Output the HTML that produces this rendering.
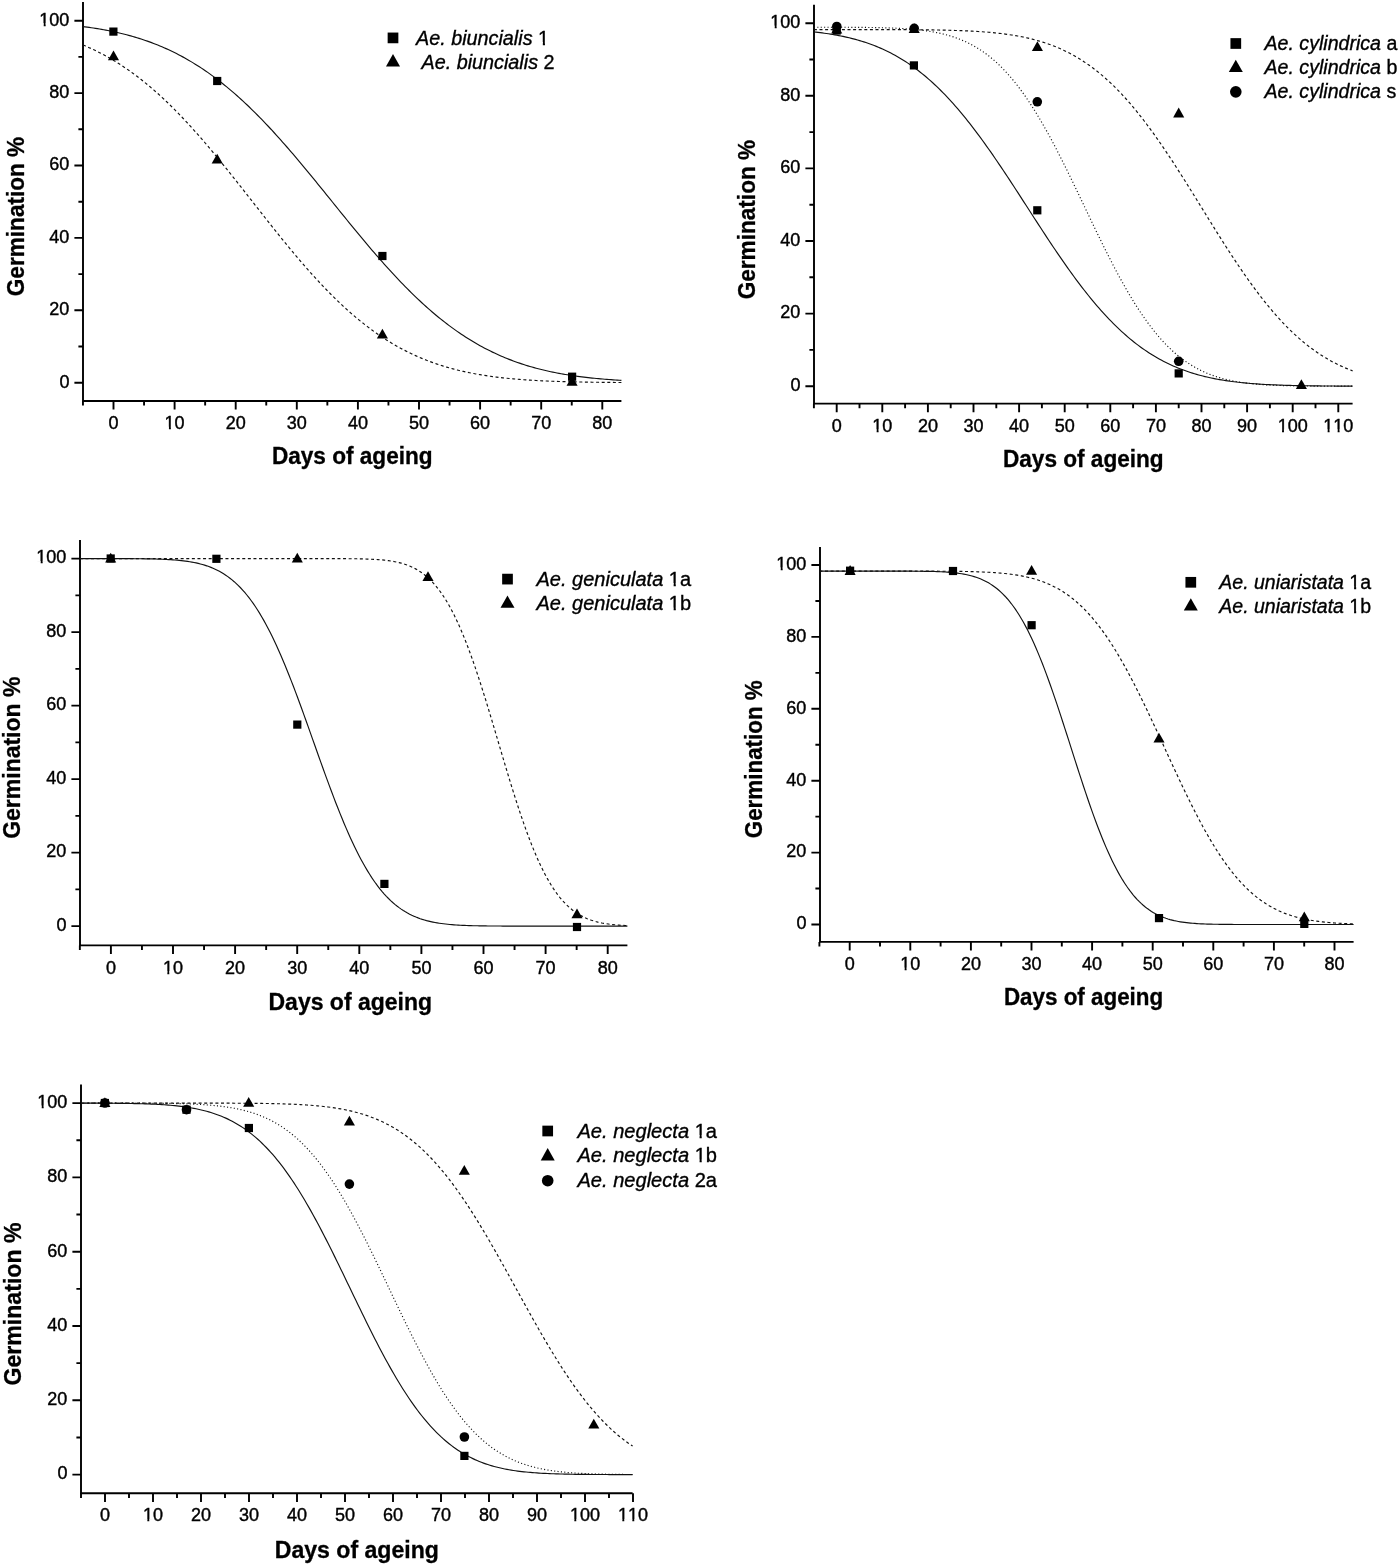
<!DOCTYPE html>
<html><head><meta charset="utf-8"><style>
html,body{margin:0;padding:0;background:#fff;overflow:hidden;}
svg{display:block;will-change:transform;}
text{font-family:"Liberation Sans", sans-serif;fill:#000;font-kerning:none;}
</style></head><body>
<svg width="1400" height="1565" viewBox="0 0 1400 1565">
<rect width="1400" height="1565" fill="#fff"/>
<path d="M83 2V401.9M82.1 401H621.4" stroke="#000" stroke-width="1.9" fill="none"/>
<path d="M83 382.7h-8.6M83 310.3h-8.6M83 237.9h-8.6M83 165.5h-8.6M83 93.1h-8.6M83 20.7h-8.6M83 346.5h-4.6M83 274.1h-4.6M83 201.7h-4.6M83 129.3h-4.6M83 56.9h-4.6M113.5 401v8.6M174.6 401v8.6M235.7 401v8.6M296.8 401v8.6M357.9 401v8.6M419 401v8.6M480.1 401v8.6M541.2 401v8.6M602.3 401v8.6M82.95 401v4.6M144.05 401v4.6M205.15 401v4.6M266.25 401v4.6M327.35 401v4.6M388.45 401v4.6M449.55 401v4.6M510.65 401v4.6M571.75 401v4.6" stroke="#000" stroke-width="1.9" fill="none"/>
<g font-size="18" stroke="#000" stroke-width="0.4"><text x="69.4" y="387.5" text-anchor="end">0</text><text x="69.4" y="315.1" text-anchor="end">20</text><text x="69.4" y="242.7" text-anchor="end">40</text><text x="69.4" y="170.3" text-anchor="end">60</text><text x="69.4" y="97.9" text-anchor="end">80</text><text x="69.4" y="25.5" text-anchor="end">100</text><text x="113.5" y="429.1" text-anchor="middle">0</text><text x="174.6" y="429.1" text-anchor="middle">10</text><text x="235.7" y="429.1" text-anchor="middle">20</text><text x="296.8" y="429.1" text-anchor="middle">30</text><text x="357.9" y="429.1" text-anchor="middle">40</text><text x="419" y="429.1" text-anchor="middle">50</text><text x="480.1" y="429.1" text-anchor="middle">60</text><text x="541.2" y="429.1" text-anchor="middle">70</text><text x="602.3" y="429.1" text-anchor="middle">80</text></g>
<text transform="translate(24.2 216.5) rotate(-90) scale(1 1.04)" text-anchor="middle" font-weight="bold" font-size="22.6" stroke="#000" stroke-width="0.3">Germination %</text>
<text transform="translate(352.25 464.4) scale(1 1.04)" text-anchor="middle" font-weight="bold" font-size="22.6" stroke="#000" stroke-width="0.3">Days of ageing</text>
<path d="M82.95 26.59L85.03 26.85L87.11 27.13L89.19 27.42L91.27 27.72L93.34 28.03L95.42 28.35L97.5 28.68L99.58 29.03L101.66 29.39L103.74 29.76L105.82 30.14L107.9 30.54L109.98 30.95L112.06 31.38L114.13 31.82L116.21 32.27L118.29 32.74L120.37 33.23L122.45 33.73L124.53 34.25L126.61 34.79L128.69 35.34L130.77 35.91L132.84 36.5L134.92 37.1L137 37.73L139.08 38.37L141.16 39.04L143.24 39.72L145.32 40.42L147.4 41.14L149.48 41.89L151.56 42.65L153.63 43.44L155.71 44.25L157.79 45.08L159.87 45.93L161.95 46.8L164.03 47.7L166.11 48.63L168.19 49.57L170.27 50.54L172.35 51.53L174.42 52.55L176.5 53.6L178.58 54.66L180.66 55.76L182.74 56.88L184.82 58.02L186.9 59.2L188.98 60.39L191.06 61.62L193.13 62.87L195.21 64.15L197.29 65.45L199.37 66.78L201.45 68.14L203.53 69.53L205.61 70.95L207.69 72.39L209.77 73.86L211.85 75.36L213.92 76.88L216 78.44L218.08 80.02L220.16 81.63L222.24 83.26L224.32 84.93L226.4 86.62L228.48 88.34L230.56 90.09L232.63 91.87L234.71 93.67L236.79 95.5L238.87 97.35L240.95 99.24L243.03 101.15L245.11 103.08L247.19 105.04L249.27 107.03L251.35 109.04L253.42 111.08L255.5 113.14L257.58 115.23L259.66 117.34L261.74 119.47L263.82 121.63L265.9 123.81L267.98 126.01L270.06 128.24L272.14 130.48L274.21 132.75L276.29 135.04L278.37 137.34L280.45 139.67L282.53 142.01L284.61 144.37L286.69 146.75L288.77 149.14L290.85 151.56L292.92 153.98L295 156.42L297.08 158.88L299.16 161.35L301.24 163.83L303.32 166.32L305.4 168.82L307.48 171.33L309.56 173.86L311.64 176.39L313.71 178.93L315.79 181.48L317.87 184.03L319.95 186.59L322.03 189.15L324.11 191.72L326.19 194.29L328.27 196.86L330.35 199.44L332.42 202.01L334.5 204.59L336.58 207.16L338.66 209.74L340.74 212.31L342.82 214.87L344.9 217.44L346.98 219.99L349.06 222.55L351.14 225.09L353.21 227.63L355.29 230.16L357.37 232.68L359.45 235.19L361.53 237.69L363.61 240.18L365.69 242.66L367.77 245.12L369.85 247.57L371.93 250.01L374 252.43L376.08 254.84L378.16 257.23L380.24 259.61L382.32 261.96L384.4 264.3L386.48 266.62L388.56 268.92L390.64 271.21L392.71 273.47L394.79 275.71L396.87 277.93L398.95 280.12L401.03 282.3L403.11 284.45L405.19 286.58L407.27 288.68L409.35 290.76L411.43 292.82L413.5 294.85L415.58 296.86L417.66 298.84L419.74 300.79L421.82 302.72L423.9 304.63L425.98 306.5L428.06 308.35L430.14 310.18L432.21 311.97L434.29 313.74L436.37 315.48L438.45 317.19L440.53 318.88L442.61 320.54L444.69 322.17L446.77 323.77L448.85 325.35L450.93 326.89L453 328.41L455.08 329.9L457.16 331.37L459.24 332.8L461.32 334.21L463.4 335.59L465.48 336.94L467.56 338.27L469.64 339.57L471.72 340.84L473.79 342.08L475.87 343.3L477.95 344.49L480.03 345.66L482.11 346.8L484.19 347.91L486.27 349L488.35 350.06L490.43 351.1L492.5 352.11L494.58 353.1L496.66 354.06L498.74 355L500.82 355.92L502.9 356.81L504.98 357.68L507.06 358.53L509.14 359.35L511.22 360.16L513.29 360.94L515.37 361.7L517.45 362.43L519.53 363.15L521.61 363.85L523.69 364.53L525.77 365.19L527.85 365.83L529.93 366.45L532 367.05L534.08 367.63L536.16 368.2L538.24 368.75L540.32 369.28L542.4 369.79L544.48 370.29L546.56 370.77L548.64 371.24L550.72 371.69L552.79 372.13L554.87 372.55L556.95 372.96L559.03 373.35L561.11 373.73L563.19 374.1L565.27 374.46L567.35 374.8L569.43 375.13L571.51 375.45L573.58 375.76L575.66 376.05L577.74 376.34L579.82 376.61L581.9 376.88L583.98 377.13L586.06 377.38L588.14 377.61L590.22 377.84L592.29 378.06L594.37 378.27L596.45 378.47L598.53 378.66L600.61 378.85L602.69 379.02L604.77 379.2L606.85 379.36L608.93 379.52L611.01 379.67L613.08 379.81L615.16 379.95L617.24 380.08L619.32 380.21L621.4 380.33" stroke="#111" stroke-width="1.15" fill="none"/>
<path d="M82.95 44.95L85.03 45.82L87.11 46.72L89.19 47.65L91.27 48.59L93.34 49.57L95.42 50.57L97.5 51.59L99.58 52.64L101.66 53.72L103.74 54.83L105.82 55.96L107.9 57.12L109.98 58.3L112.06 59.52L114.13 60.76L116.21 62.03L118.29 63.33L120.37 64.65L122.45 66.01L124.53 67.4L126.61 68.81L128.69 70.25L130.77 71.73L132.84 73.23L134.92 74.76L137 76.32L139.08 77.91L141.16 79.53L143.24 81.18L145.32 82.86L147.4 84.57L149.48 86.31L151.56 88.07L153.63 89.87L155.71 91.7L157.79 93.55L159.87 95.44L161.95 97.35L164.03 99.29L166.11 101.26L168.19 103.25L170.27 105.28L172.35 107.33L174.42 109.41L176.5 111.51L178.58 113.64L180.66 115.8L182.74 117.98L184.82 120.19L186.9 122.42L188.98 124.67L191.06 126.95L193.13 129.25L195.21 131.57L197.29 133.92L199.37 136.28L201.45 138.67L203.53 141.08L205.61 143.5L207.69 145.95L209.77 148.41L211.85 150.89L213.92 153.39L216 155.9L218.08 158.42L220.16 160.96L222.24 163.52L224.32 166.08L226.4 168.66L228.48 171.25L230.56 173.85L232.63 176.46L234.71 179.08L236.79 181.7L238.87 184.33L240.95 186.97L243.03 189.61L245.11 192.26L247.19 194.91L249.27 197.56L251.35 200.21L253.42 202.87L255.5 205.52L257.58 208.17L259.66 210.82L261.74 213.47L263.82 216.11L265.9 218.75L267.98 221.38L270.06 224.01L272.14 226.62L274.21 229.23L276.29 231.83L278.37 234.42L280.45 237L282.53 239.57L284.61 242.13L286.69 244.67L288.77 247.2L290.85 249.71L292.92 252.21L295 254.69L297.08 257.15L299.16 259.6L301.24 262.03L303.32 264.44L305.4 266.83L307.48 269.2L309.56 271.54L311.64 273.87L313.71 276.17L315.79 278.45L317.87 280.71L319.95 282.95L322.03 285.16L324.11 287.34L326.19 289.5L328.27 291.63L330.35 293.74L332.42 295.82L334.5 297.88L336.58 299.9L338.66 301.9L340.74 303.88L342.82 305.82L344.9 307.73L346.98 309.62L349.06 311.48L351.14 313.31L353.21 315.11L355.29 316.88L357.37 318.62L359.45 320.33L361.53 322.02L363.61 323.67L365.69 325.29L367.77 326.89L369.85 328.45L371.93 329.99L374 331.49L376.08 332.97L378.16 334.42L380.24 335.84L382.32 337.22L384.4 338.58L386.48 339.91L388.56 341.22L390.64 342.49L392.71 343.74L394.79 344.95L396.87 346.14L398.95 347.3L401.03 348.44L403.11 349.55L405.19 350.63L407.27 351.68L409.35 352.71L411.43 353.71L413.5 354.69L415.58 355.64L417.66 356.57L419.74 357.47L421.82 358.35L423.9 359.2L425.98 360.03L428.06 360.84L430.14 361.63L432.21 362.39L434.29 363.13L436.37 363.85L438.45 364.55L440.53 365.22L442.61 365.88L444.69 366.52L446.77 367.14L448.85 367.73L450.93 368.31L453 368.87L455.08 369.42L457.16 369.94L459.24 370.45L461.32 370.94L463.4 371.42L465.48 371.88L467.56 372.32L469.64 372.75L471.72 373.16L473.79 373.56L475.87 373.95L477.95 374.32L480.03 374.68L482.11 375.02L484.19 375.35L486.27 375.67L488.35 375.98L490.43 376.28L492.5 376.56L494.58 376.84L496.66 377.1L498.74 377.35L500.82 377.6L502.9 377.83L504.98 378.06L507.06 378.27L509.14 378.48L511.22 378.68L513.29 378.87L515.37 379.05L517.45 379.23L519.53 379.39L521.61 379.55L523.69 379.71L525.77 379.85L527.85 379.99L529.93 380.13L532 380.26L534.08 380.38L536.16 380.5L538.24 380.61L540.32 380.72L542.4 380.82L544.48 380.91L546.56 381.01L548.64 381.1L550.72 381.18L552.79 381.26L554.87 381.34L556.95 381.41L559.03 381.48L561.11 381.55L563.19 381.61L565.27 381.67L567.35 381.72L569.43 381.78L571.51 381.83L573.58 381.88L575.66 381.92L577.74 381.97L579.82 382.01L581.9 382.05L583.98 382.09L586.06 382.12L588.14 382.15L590.22 382.19L592.29 382.22L594.37 382.24L596.45 382.27L598.53 382.3L600.61 382.32L602.69 382.34L604.77 382.37L606.85 382.39L608.93 382.4L611.01 382.42L613.08 382.44L615.16 382.46L617.24 382.47L619.32 382.49L621.4 382.5" stroke="#111" stroke-width="1.15" fill="none" stroke-dasharray="3 2.6"/>
<g fill="#000"><rect x="109.3" y="27.5" width="8.2" height="8.2"/><rect x="213.1" y="76.9" width="8.2" height="8.2"/><rect x="378.3" y="251.9" width="8.2" height="8.2"/><rect x="568" y="372.6" width="8.2" height="8.2"/><path d="M113.5 50.55L119.05 60.35L107.95 60.35Z"/><path d="M217.2 153.7L222.75 163.5L211.65 163.5Z"/><path d="M382.4 328.7L387.95 338.5L376.85 338.5Z"/><path d="M572.1 375.9L577.65 385.7L566.55 385.7Z"/></g>
<g fill="#000"><rect x="387.65" y="32.55" width="10.7" height="10.7"/><text x="416" y="44.5" font-size="19.8" stroke="#000" stroke-width="0.35"><tspan font-style="italic">Ae. biuncialis</tspan> 1</text><path d="M393 54.1L400 66.4L386 66.4Z"/><text x="421.5" y="68.5" font-size="19.8" stroke="#000" stroke-width="0.35"><tspan font-style="italic">Ae. biuncialis</tspan> 2</text></g>
<path d="M814 4.8V404.5M813.1 403.6H1352.6" stroke="#000" stroke-width="1.9" fill="none"/>
<path d="M814 386.2h-8.6M814 313.6h-8.6M814 241h-8.6M814 168.4h-8.6M814 95.8h-8.6M814 23.2h-8.6M814 349.9h-4.6M814 277.3h-4.6M814 204.7h-4.6M814 132.1h-4.6M814 59.5h-4.6M836.7 403.6v8.6M882.3 403.6v8.6M927.9 403.6v8.6M973.5 403.6v8.6M1019.1 403.6v8.6M1064.7 403.6v8.6M1110.3 403.6v8.6M1155.9 403.6v8.6M1201.5 403.6v8.6M1247.1 403.6v8.6M1292.7 403.6v8.6M1338.3 403.6v8.6M813.9 403.6v4.6M859.5 403.6v4.6M905.1 403.6v4.6M950.7 403.6v4.6M996.3 403.6v4.6M1041.9 403.6v4.6M1087.5 403.6v4.6M1133.1 403.6v4.6M1178.7 403.6v4.6M1224.3 403.6v4.6M1269.9 403.6v4.6M1315.5 403.6v4.6" stroke="#000" stroke-width="1.9" fill="none"/>
<g font-size="18" stroke="#000" stroke-width="0.4"><text x="800.4" y="391" text-anchor="end">0</text><text x="800.4" y="318.4" text-anchor="end">20</text><text x="800.4" y="245.8" text-anchor="end">40</text><text x="800.4" y="173.2" text-anchor="end">60</text><text x="800.4" y="100.6" text-anchor="end">80</text><text x="800.4" y="28" text-anchor="end">100</text><text x="836.7" y="431.7" text-anchor="middle">0</text><text x="882.3" y="431.7" text-anchor="middle">10</text><text x="927.9" y="431.7" text-anchor="middle">20</text><text x="973.5" y="431.7" text-anchor="middle">30</text><text x="1019.1" y="431.7" text-anchor="middle">40</text><text x="1064.7" y="431.7" text-anchor="middle">50</text><text x="1110.3" y="431.7" text-anchor="middle">60</text><text x="1155.9" y="431.7" text-anchor="middle">70</text><text x="1201.5" y="431.7" text-anchor="middle">80</text><text x="1247.1" y="431.7" text-anchor="middle">90</text><text x="1292.7" y="431.7" text-anchor="middle">100</text><text x="1338.3" y="431.7" text-anchor="middle">110</text></g>
<text transform="translate(754.7 219.6) rotate(-90) scale(1 1.04)" text-anchor="middle" font-weight="bold" font-size="22.6" stroke="#000" stroke-width="0.3">Germination %</text>
<text transform="translate(1083.3 466.9) scale(1 1.04)" text-anchor="middle" font-weight="bold" font-size="22.6" stroke="#000" stroke-width="0.3">Days of ageing</text>
<path d="M813.9 31.95L815.98 32.17L818.06 32.41L820.14 32.66L822.22 32.93L824.3 33.2L826.38 33.49L828.46 33.8L830.54 34.12L832.62 34.46L834.7 34.81L836.78 35.19L838.86 35.57L840.94 35.98L843.02 36.41L845.1 36.85L847.18 37.32L849.26 37.81L851.34 38.32L853.42 38.85L855.5 39.4L857.58 39.98L859.66 40.58L861.74 41.21L863.82 41.87L865.9 42.55L867.98 43.26L870.06 43.99L872.14 44.76L874.22 45.55L876.3 46.38L878.38 47.24L880.46 48.12L882.54 49.05L884.62 50L886.7 50.99L888.78 52.01L890.86 53.07L892.94 54.17L895.02 55.3L897.1 56.47L899.18 57.67L901.26 58.92L903.34 60.2L905.42 61.53L907.5 62.89L909.58 64.29L911.66 65.74L913.74 67.23L915.82 68.75L917.9 70.33L919.98 71.94L922.06 73.6L924.14 75.3L926.22 77.04L928.3 78.83L930.38 80.66L932.46 82.54L934.54 84.46L936.62 86.42L938.7 88.43L940.78 90.48L942.86 92.58L944.94 94.72L947.02 96.9L949.09 99.13L951.17 101.4L953.25 103.71L955.33 106.06L957.41 108.46L959.49 110.9L961.57 113.38L963.65 115.9L965.73 118.46L967.81 121.06L969.89 123.69L971.97 126.37L974.05 129.08L976.13 131.82L978.21 134.6L980.29 137.42L982.37 140.26L984.45 143.14L986.53 146.05L988.61 148.99L990.69 151.95L992.77 154.95L994.85 157.96L996.93 161.01L999.01 164.07L1001.09 167.16L1003.17 170.26L1005.25 173.39L1007.33 176.53L1009.41 179.68L1011.49 182.86L1013.57 186.04L1015.65 189.23L1017.73 192.43L1019.81 195.64L1021.89 198.86L1023.97 202.08L1026.05 205.3L1028.13 208.53L1030.21 211.75L1032.29 214.97L1034.37 218.19L1036.45 221.4L1038.53 224.61L1040.61 227.8L1042.69 230.99L1044.77 234.16L1046.85 237.32L1048.93 240.46L1051.01 243.59L1053.09 246.7L1055.17 249.79L1057.25 252.86L1059.33 255.91L1061.41 258.93L1063.49 261.93L1065.57 264.9L1067.65 267.84L1069.73 270.76L1071.81 273.64L1073.89 276.49L1075.97 279.31L1078.05 282.1L1080.13 284.85L1082.21 287.57L1084.29 290.25L1086.37 292.9L1088.45 295.5L1090.53 298.07L1092.61 300.6L1094.69 303.08L1096.77 305.53L1098.85 307.93L1100.93 310.3L1103.01 312.62L1105.09 314.9L1107.17 317.13L1109.25 319.33L1111.33 321.47L1113.41 323.58L1115.49 325.64L1117.57 327.66L1119.65 329.63L1121.73 331.56L1123.81 333.44L1125.89 335.28L1127.97 337.08L1130.05 338.83L1132.13 340.54L1134.21 342.21L1136.29 343.83L1138.37 345.41L1140.45 346.95L1142.53 348.44L1144.61 349.9L1146.69 351.31L1148.77 352.68L1150.85 354.01L1152.93 355.3L1155.01 356.56L1157.09 357.77L1159.17 358.95L1161.25 360.08L1163.33 361.19L1165.41 362.25L1167.49 363.28L1169.57 364.28L1171.65 365.24L1173.73 366.17L1175.81 367.06L1177.89 367.93L1179.97 368.76L1182.05 369.56L1184.13 370.33L1186.21 371.07L1188.29 371.79L1190.37 372.47L1192.45 373.13L1194.53 373.77L1196.61 374.38L1198.69 374.96L1200.77 375.52L1202.85 376.05L1204.93 376.57L1207.01 377.06L1209.09 377.53L1211.17 377.98L1213.25 378.41L1215.33 378.82L1217.41 379.21L1219.48 379.59L1221.56 379.94L1223.64 380.28L1225.72 380.61L1227.8 380.92L1229.88 381.21L1231.96 381.49L1234.04 381.76L1236.12 382.01L1238.2 382.25L1240.28 382.48L1242.36 382.7L1244.44 382.9L1246.52 383.1L1248.6 383.28L1250.68 383.46L1252.76 383.63L1254.84 383.78L1256.92 383.93L1259 384.07L1261.08 384.2L1263.16 384.33L1265.24 384.45L1267.32 384.56L1269.4 384.66L1271.48 384.76L1273.56 384.86L1275.64 384.94L1277.72 385.03L1279.8 385.1L1281.88 385.18L1283.96 385.25L1286.04 385.31L1288.12 385.37L1290.2 385.43L1292.28 385.48L1294.36 385.53L1296.44 385.58L1298.52 385.62L1300.6 385.66L1302.68 385.7L1304.76 385.74L1306.84 385.77L1308.92 385.8L1311 385.83L1313.08 385.86L1315.16 385.88L1317.24 385.91L1319.32 385.93L1321.4 385.95L1323.48 385.97L1325.56 385.98L1327.64 386L1329.72 386.02L1331.8 386.03L1333.88 386.04L1335.96 386.06L1338.04 386.07L1340.12 386.08L1342.2 386.09L1344.28 386.1L1346.36 386.1L1348.44 386.11L1350.52 386.12L1352.6 386.13" stroke="#111" stroke-width="1.15" fill="none"/>
<path d="M813.9 27.21L815.98 27.21L818.06 27.21L820.14 27.21L822.22 27.21L824.3 27.22L826.38 27.22L828.46 27.22L830.54 27.23L832.62 27.23L834.7 27.24L836.78 27.24L838.86 27.25L840.94 27.26L843.02 27.26L845.1 27.27L847.18 27.28L849.26 27.29L851.34 27.31L853.42 27.32L855.5 27.33L857.58 27.35L859.66 27.37L861.74 27.39L863.82 27.41L865.9 27.43L867.98 27.46L870.06 27.49L872.14 27.52L874.22 27.56L876.3 27.6L878.38 27.64L880.46 27.69L882.54 27.74L884.62 27.8L886.7 27.86L888.78 27.93L890.86 28L892.94 28.08L895.02 28.17L897.1 28.26L899.18 28.37L901.26 28.48L903.34 28.6L905.42 28.74L907.5 28.88L909.58 29.04L911.66 29.21L913.74 29.39L915.82 29.59L917.9 29.8L919.98 30.03L922.06 30.27L924.14 30.54L926.22 30.82L928.3 31.13L930.38 31.45L932.46 31.81L934.54 32.18L936.62 32.58L938.7 33.01L940.78 33.47L942.86 33.96L944.94 34.48L947.02 35.03L949.09 35.62L951.17 36.25L953.25 36.91L955.33 37.62L957.41 38.36L959.49 39.15L961.57 39.99L963.65 40.87L965.73 41.81L967.81 42.79L969.89 43.82L971.97 44.91L974.05 46.06L976.13 47.27L978.21 48.53L980.29 49.86L982.37 51.25L984.45 52.7L986.53 54.22L988.61 55.81L990.69 57.47L992.77 59.2L994.85 61.01L996.93 62.88L999.01 64.83L1001.09 66.86L1003.17 68.97L1005.25 71.15L1007.33 73.41L1009.41 75.75L1011.49 78.18L1013.57 80.68L1015.65 83.26L1017.73 85.92L1019.81 88.67L1021.89 91.49L1023.97 94.4L1026.05 97.39L1028.13 100.45L1030.21 103.59L1032.29 106.81L1034.37 110.11L1036.45 113.48L1038.53 116.92L1040.61 120.44L1042.69 124.03L1044.77 127.68L1046.85 131.4L1048.93 135.18L1051.01 139.02L1053.09 142.93L1055.17 146.88L1057.25 150.89L1059.33 154.95L1061.41 159.05L1063.49 163.2L1065.57 167.39L1067.65 171.61L1069.73 175.86L1071.81 180.14L1073.89 184.45L1075.97 188.78L1078.05 193.12L1080.13 197.48L1082.21 201.84L1084.29 206.21L1086.37 210.58L1088.45 214.94L1090.53 219.3L1092.61 223.65L1094.69 227.98L1096.77 232.29L1098.85 236.58L1100.93 240.84L1103.01 245.07L1105.09 249.26L1107.17 253.42L1109.25 257.53L1111.33 261.6L1113.41 265.62L1115.49 269.59L1117.57 273.5L1119.65 277.36L1121.73 281.16L1123.81 284.89L1125.89 288.56L1127.97 292.16L1130.05 295.69L1132.13 299.15L1134.21 302.54L1136.29 305.85L1138.37 309.09L1140.45 312.25L1142.53 315.33L1144.61 318.33L1146.69 321.26L1148.77 324.1L1150.85 326.86L1152.93 329.54L1155.01 332.15L1157.09 334.67L1159.17 337.11L1161.25 339.46L1163.33 341.74L1165.41 343.95L1167.49 346.07L1169.57 348.11L1171.65 350.08L1173.73 351.98L1175.81 353.79L1177.89 355.54L1179.97 357.22L1182.05 358.82L1184.13 360.36L1186.21 361.83L1188.29 363.23L1190.37 364.57L1192.45 365.85L1194.53 367.07L1196.61 368.23L1198.69 369.33L1200.77 370.38L1202.85 371.37L1204.93 372.32L1207.01 373.21L1209.09 374.06L1211.17 374.86L1213.25 375.61L1215.33 376.33L1217.41 377L1219.48 377.63L1221.56 378.23L1223.64 378.79L1225.72 379.32L1227.8 379.82L1229.88 380.28L1231.96 380.72L1234.04 381.12L1236.12 381.51L1238.2 381.86L1240.28 382.19L1242.36 382.5L1244.44 382.79L1246.52 383.06L1248.6 383.31L1250.68 383.55L1252.76 383.76L1254.84 383.96L1256.92 384.15L1259 384.32L1261.08 384.48L1263.16 384.62L1265.24 384.76L1267.32 384.89L1269.4 385L1271.48 385.11L1273.56 385.2L1275.64 385.29L1277.72 385.38L1279.8 385.45L1281.88 385.52L1283.96 385.58L1286.04 385.64L1288.12 385.69L1290.2 385.74L1292.28 385.79L1294.36 385.83L1296.44 385.86L1298.52 385.9L1300.6 385.93L1302.68 385.95L1304.76 385.98L1306.84 386L1308.92 386.02L1311 386.04L1313.08 386.06L1315.16 386.07L1317.24 386.09L1319.32 386.1L1321.4 386.11L1323.48 386.12L1325.56 386.13L1327.64 386.14L1329.72 386.14L1331.8 386.15L1333.88 386.15L1335.96 386.16L1338.04 386.16L1340.12 386.17L1342.2 386.17L1344.28 386.18L1346.36 386.18L1348.44 386.18L1350.52 386.18L1352.6 386.18" stroke="#111" stroke-width="1.15" fill="none" stroke-dasharray="1.1 2.3"/>
<path d="M813.9 29.55L815.98 29.55L818.06 29.55L820.14 29.56L822.22 29.56L824.3 29.56L826.38 29.56L828.46 29.56L830.54 29.56L832.62 29.56L834.7 29.56L836.78 29.56L838.86 29.56L840.94 29.56L843.02 29.56L845.1 29.56L847.18 29.56L849.26 29.56L851.34 29.56L853.42 29.57L855.5 29.57L857.58 29.57L859.66 29.57L861.74 29.57L863.82 29.57L865.9 29.58L867.98 29.58L870.06 29.58L872.14 29.58L874.22 29.59L876.3 29.59L878.38 29.59L880.46 29.6L882.54 29.6L884.62 29.61L886.7 29.61L888.78 29.62L890.86 29.62L892.94 29.63L895.02 29.64L897.1 29.65L899.18 29.66L901.26 29.66L903.34 29.67L905.42 29.69L907.5 29.7L909.58 29.71L911.66 29.72L913.74 29.74L915.82 29.76L917.9 29.77L919.98 29.79L922.06 29.81L924.14 29.84L926.22 29.86L928.3 29.88L930.38 29.91L932.46 29.94L934.54 29.97L936.62 30.01L938.7 30.05L940.78 30.08L942.86 30.13L944.94 30.17L947.02 30.22L949.09 30.27L951.17 30.33L953.25 30.39L955.33 30.45L957.41 30.52L959.49 30.59L961.57 30.67L963.65 30.76L965.73 30.84L967.81 30.94L969.89 31.04L971.97 31.15L974.05 31.26L976.13 31.38L978.21 31.51L980.29 31.65L982.37 31.79L984.45 31.95L986.53 32.11L988.61 32.28L990.69 32.47L992.77 32.66L994.85 32.86L996.93 33.08L999.01 33.31L1001.09 33.55L1003.17 33.81L1005.25 34.08L1007.33 34.36L1009.41 34.66L1011.49 34.98L1013.57 35.31L1015.65 35.66L1017.73 36.02L1019.81 36.41L1021.89 36.81L1023.97 37.24L1026.05 37.68L1028.13 38.15L1030.21 38.64L1032.29 39.15L1034.37 39.69L1036.45 40.25L1038.53 40.84L1040.61 41.45L1042.69 42.09L1044.77 42.76L1046.85 43.46L1048.93 44.19L1051.01 44.95L1053.09 45.74L1055.17 46.56L1057.25 47.41L1059.33 48.3L1061.41 49.22L1063.49 50.18L1065.57 51.18L1067.65 52.21L1069.73 53.28L1071.81 54.39L1073.89 55.54L1075.97 56.73L1078.05 57.96L1080.13 59.23L1082.21 60.54L1084.29 61.9L1086.37 63.3L1088.45 64.74L1090.53 66.23L1092.61 67.77L1094.69 69.35L1096.77 70.97L1098.85 72.65L1100.93 74.37L1103.01 76.13L1105.09 77.95L1107.17 79.81L1109.25 81.72L1111.33 83.68L1113.41 85.69L1115.49 87.74L1117.57 89.85L1119.65 92L1121.73 94.2L1123.81 96.45L1125.89 98.74L1127.97 101.09L1130.05 103.48L1132.13 105.92L1134.21 108.4L1136.29 110.93L1138.37 113.5L1140.45 116.12L1142.53 118.78L1144.61 121.48L1146.69 124.23L1148.77 127.02L1150.85 129.84L1152.93 132.71L1155.01 135.61L1157.09 138.56L1159.17 141.53L1161.25 144.54L1163.33 147.59L1165.41 150.66L1167.49 153.77L1169.57 156.9L1171.65 160.06L1173.73 163.25L1175.81 166.46L1177.89 169.7L1179.97 172.95L1182.05 176.23L1184.13 179.52L1186.21 182.83L1188.29 186.15L1190.37 189.48L1192.45 192.82L1194.53 196.18L1196.61 199.54L1198.69 202.9L1200.77 206.26L1202.85 209.63L1204.93 213L1207.01 216.36L1209.09 219.72L1211.17 223.07L1213.25 226.41L1215.33 229.75L1217.41 233.07L1219.48 236.37L1221.56 239.66L1223.64 242.94L1225.72 246.19L1227.8 249.43L1229.88 252.64L1231.96 255.82L1234.04 258.98L1236.12 262.12L1238.2 265.22L1240.28 268.3L1242.36 271.34L1244.44 274.35L1246.52 277.32L1248.6 280.26L1250.68 283.16L1252.76 286.03L1254.84 288.85L1256.92 291.64L1259 294.38L1261.08 297.09L1263.16 299.75L1265.24 302.36L1267.32 304.93L1269.4 307.46L1271.48 309.94L1273.56 312.38L1275.64 314.76L1277.72 317.11L1279.8 319.4L1281.88 321.65L1283.96 323.84L1286.04 325.99L1288.12 328.1L1290.2 330.15L1292.28 332.16L1294.36 334.11L1296.44 336.02L1298.52 337.88L1300.6 339.7L1302.68 341.46L1304.76 343.18L1306.84 344.85L1308.92 346.47L1311 348.05L1313.08 349.58L1315.16 351.07L1317.24 352.51L1319.32 353.91L1321.4 355.27L1323.48 356.58L1325.56 357.85L1327.64 359.08L1329.72 360.26L1331.8 361.41L1333.88 362.52L1335.96 363.59L1338.04 364.62L1340.12 365.61L1342.2 366.57L1344.28 367.49L1346.36 368.38L1348.44 369.23L1350.52 370.05L1352.6 370.84" stroke="#111" stroke-width="1.15" fill="none" stroke-dasharray="3 2.6"/>
<g fill="#000"><rect x="832.6" y="26.4" width="8.2" height="8.2"/><rect x="909.8" y="61.3" width="8.2" height="8.2"/><rect x="1033.2" y="206.2" width="8.2" height="8.2"/><rect x="1174.6" y="369.3" width="8.2" height="8.2"/><circle cx="836.8" cy="26.5" r="4.8"/><circle cx="914.2" cy="28.3" r="4.8"/><circle cx="1037.3" cy="101.8" r="4.8"/><circle cx="1178.7" cy="361.3" r="4.8"/><path d="M836.7 23.6L842.25 33.4L831.15 33.4Z"/><path d="M914.2 23.3L919.75 33.1L908.65 33.1Z"/><path d="M1037.4 41.2L1042.95 51L1031.85 51Z"/><path d="M1178.7 107.6L1184.25 117.4L1173.15 117.4Z"/><path d="M1301.4 379.2L1306.95 389L1295.85 389Z"/></g>
<g fill="#000"><rect x="1230.45" y="38.15" width="10.7" height="10.7"/><text x="1264.5" y="49.9" font-size="19.6" stroke="#000" stroke-width="0.35"><tspan font-style="italic">Ae. cylindrica</tspan> a</text><path d="M1235.8 59.75L1242.8 72.05L1228.8 72.05Z"/><text x="1264.5" y="74" font-size="19.6" stroke="#000" stroke-width="0.35"><tspan font-style="italic">Ae. cylindrica</tspan> b</text><circle cx="1235.8" cy="91.85" r="5.8"/><text x="1264.5" y="98" font-size="19.6" stroke="#000" stroke-width="0.35"><tspan font-style="italic">Ae. cylindrica</tspan> s</text></g>
<path d="M80 540V946.3M79.1 945.4H627.4" stroke="#000" stroke-width="1.9" fill="none"/>
<path d="M80 926.1h-8.6M80 852.6h-8.6M80 779.1h-8.6M80 705.6h-8.6M80 632.1h-8.6M80 558.6h-8.6M80 889.35h-4.6M80 815.85h-4.6M80 742.35h-4.6M80 668.85h-4.6M80 595.35h-4.6M110.9 945.4v8.6M173 945.4v8.6M235.1 945.4v8.6M297.2 945.4v8.6M359.3 945.4v8.6M421.4 945.4v8.6M483.5 945.4v8.6M545.6 945.4v8.6M607.7 945.4v8.6M79.85 945.4v4.6M141.95 945.4v4.6M204.05 945.4v4.6M266.15 945.4v4.6M328.25 945.4v4.6M390.35 945.4v4.6M452.45 945.4v4.6M514.55 945.4v4.6M576.65 945.4v4.6" stroke="#000" stroke-width="1.9" fill="none"/>
<g font-size="18" stroke="#000" stroke-width="0.4"><text x="66.4" y="930.9" text-anchor="end">0</text><text x="66.4" y="857.4" text-anchor="end">20</text><text x="66.4" y="783.9" text-anchor="end">40</text><text x="66.4" y="710.4" text-anchor="end">60</text><text x="66.4" y="636.9" text-anchor="end">80</text><text x="66.4" y="563.4" text-anchor="end">100</text><text x="110.9" y="973.5" text-anchor="middle">0</text><text x="173" y="973.5" text-anchor="middle">10</text><text x="235.1" y="973.5" text-anchor="middle">20</text><text x="297.2" y="973.5" text-anchor="middle">30</text><text x="359.3" y="973.5" text-anchor="middle">40</text><text x="421.4" y="973.5" text-anchor="middle">50</text><text x="483.5" y="973.5" text-anchor="middle">60</text><text x="545.6" y="973.5" text-anchor="middle">70</text><text x="607.7" y="973.5" text-anchor="middle">80</text></g>
<text transform="translate(20.3 757.7) rotate(-90) scale(1 1.04)" text-anchor="middle" font-weight="bold" font-size="23.0" stroke="#000" stroke-width="0.3">Germination %</text>
<text transform="translate(350.25 1010) scale(1 1.04)" text-anchor="middle" font-weight="bold" font-size="23.0" stroke="#000" stroke-width="0.3">Days of ageing</text>
<path d="M79.85 558.6L81.96 558.6L84.08 558.6L86.19 558.6L88.31 558.6L90.42 558.6L92.53 558.6L94.65 558.6L96.76 558.61L98.88 558.61L100.99 558.61L103.11 558.61L105.22 558.61L107.33 558.61L109.45 558.62L111.56 558.62L113.68 558.62L115.79 558.63L117.9 558.63L120.02 558.64L122.13 558.64L124.25 558.65L126.36 558.66L128.47 558.67L130.59 558.68L132.7 558.69L134.82 558.71L136.93 558.72L139.04 558.74L141.16 558.76L143.27 558.79L145.39 558.82L147.5 558.85L149.62 558.89L151.73 558.93L153.84 558.98L155.96 559.04L158.07 559.1L160.19 559.17L162.3 559.25L164.41 559.34L166.53 559.45L168.64 559.56L170.76 559.69L172.87 559.83L174.98 559.99L177.1 560.17L179.21 560.37L181.33 560.59L183.44 560.83L185.55 561.1L187.67 561.4L189.78 561.73L191.9 562.09L194.01 562.49L196.13 562.93L198.24 563.42L200.35 563.94L202.47 564.52L204.58 565.15L206.7 565.83L208.81 566.58L210.92 567.39L213.04 568.26L215.15 569.21L217.27 570.24L219.38 571.34L221.49 572.53L223.61 573.81L225.72 575.18L227.84 576.65L229.95 578.23L232.06 579.9L234.18 581.69L236.29 583.6L238.41 585.62L240.52 587.77L242.64 590.05L244.75 592.45L246.86 594.99L248.98 597.66L251.09 600.48L253.21 603.43L255.32 606.53L257.43 609.77L259.55 613.16L261.66 616.7L263.78 620.38L265.89 624.21L268 628.19L270.12 632.31L272.23 636.58L274.35 640.98L276.46 645.53L278.57 650.21L280.69 655.01L282.8 659.95L284.92 665.01L287.03 670.18L289.15 675.46L291.26 680.84L293.37 686.32L295.49 691.89L297.6 697.54L299.72 703.26L301.83 709.04L303.94 714.88L306.06 720.76L308.17 726.68L310.29 732.62L312.4 738.58L314.51 744.55L316.63 750.51L318.74 756.46L320.86 762.38L322.97 768.27L325.08 774.12L327.2 779.92L329.31 785.66L331.43 791.32L333.54 796.91L335.66 802.42L337.77 807.83L339.88 813.14L342 818.34L344.11 823.43L346.23 828.39L348.34 833.24L350.45 837.95L352.57 842.53L354.68 846.97L356.8 851.28L358.91 855.44L361.02 859.45L363.14 863.32L365.25 867.04L367.37 870.62L369.48 874.05L371.59 877.33L373.71 880.47L375.82 883.46L377.94 886.31L380.05 889.02L382.17 891.59L384.28 894.03L386.39 896.34L388.51 898.52L390.62 900.58L392.74 902.51L394.85 904.33L396.96 906.04L399.08 907.64L401.19 909.14L403.31 910.54L405.42 911.84L407.53 913.05L409.65 914.18L411.76 915.23L413.88 916.19L415.99 917.09L418.1 917.91L420.22 918.68L422.33 919.38L424.45 920.02L426.56 920.61L428.68 921.15L430.79 921.64L432.9 922.09L435.02 922.5L437.13 922.88L439.25 923.22L441.36 923.52L443.47 923.8L445.59 924.05L447.7 924.28L449.82 924.48L451.93 924.66L454.04 924.83L456.16 924.98L458.27 925.11L460.39 925.23L462.5 925.33L464.61 925.42L466.73 925.51L468.84 925.58L470.96 925.64L473.07 925.7L475.19 925.75L477.3 925.8L479.41 925.84L481.53 925.87L483.64 925.9L485.76 925.93L487.87 925.95L489.98 925.97L492.1 925.99L494.21 926.01L496.33 926.02L498.44 926.03L500.55 926.04L502.67 926.05L504.78 926.06L506.9 926.06L509.01 926.07L511.12 926.07L513.24 926.08L515.35 926.08L517.47 926.08L519.58 926.09L521.7 926.09L523.81 926.09L525.92 926.09L528.04 926.09L530.15 926.09L532.27 926.1L534.38 926.1L536.49 926.1L538.61 926.1L540.72 926.1L542.84 926.1L544.95 926.1L547.06 926.1L549.18 926.1L551.29 926.1L553.41 926.1L555.52 926.1L557.63 926.1L559.75 926.1L561.86 926.1L563.98 926.1L566.09 926.1L568.21 926.1L570.32 926.1L572.43 926.1L574.55 926.1L576.66 926.1L578.78 926.1L580.89 926.1L583 926.1L585.12 926.1L587.23 926.1L589.35 926.1L591.46 926.1L593.57 926.1L595.69 926.1L597.8 926.1L599.92 926.1L602.03 926.1L604.14 926.1L606.26 926.1L608.37 926.1L610.49 926.1L612.6 926.1L614.72 926.1L616.83 926.1L618.94 926.1L621.06 926.1L623.17 926.1L625.29 926.1L627.4 926.1" stroke="#111" stroke-width="1.15" fill="none"/>
<path d="M79.85 558.6L81.96 558.6L84.08 558.6L86.19 558.6L88.31 558.6L90.42 558.6L92.53 558.6L94.65 558.6L96.76 558.6L98.88 558.6L100.99 558.6L103.11 558.6L105.22 558.6L107.33 558.6L109.45 558.6L111.56 558.6L113.68 558.6L115.79 558.6L117.9 558.6L120.02 558.6L122.13 558.6L124.25 558.6L126.36 558.6L128.47 558.6L130.59 558.6L132.7 558.6L134.82 558.6L136.93 558.6L139.04 558.6L141.16 558.6L143.27 558.6L145.39 558.6L147.5 558.6L149.62 558.6L151.73 558.6L153.84 558.6L155.96 558.6L158.07 558.6L160.19 558.6L162.3 558.6L164.41 558.6L166.53 558.6L168.64 558.6L170.76 558.6L172.87 558.6L174.98 558.6L177.1 558.6L179.21 558.6L181.33 558.6L183.44 558.6L185.55 558.6L187.67 558.6L189.78 558.6L191.9 558.6L194.01 558.6L196.13 558.6L198.24 558.6L200.35 558.6L202.47 558.6L204.58 558.6L206.7 558.6L208.81 558.6L210.92 558.6L213.04 558.6L215.15 558.6L217.27 558.6L219.38 558.6L221.49 558.6L223.61 558.6L225.72 558.6L227.84 558.6L229.95 558.6L232.06 558.6L234.18 558.6L236.29 558.6L238.41 558.6L240.52 558.6L242.64 558.6L244.75 558.6L246.86 558.6L248.98 558.6L251.09 558.6L253.21 558.6L255.32 558.6L257.43 558.6L259.55 558.6L261.66 558.6L263.78 558.6L265.89 558.6L268 558.6L270.12 558.6L272.23 558.6L274.35 558.6L276.46 558.6L278.57 558.6L280.69 558.6L282.8 558.6L284.92 558.6L287.03 558.6L289.15 558.6L291.26 558.6L293.37 558.6L295.49 558.6L297.6 558.6L299.72 558.6L301.83 558.6L303.94 558.6L306.06 558.6L308.17 558.6L310.29 558.6L312.4 558.6L314.51 558.6L316.63 558.61L318.74 558.61L320.86 558.61L322.97 558.61L325.08 558.61L327.2 558.61L329.31 558.62L331.43 558.62L333.54 558.63L335.66 558.63L337.77 558.64L339.88 558.65L342 558.66L344.11 558.67L346.23 558.68L348.34 558.7L350.45 558.72L352.57 558.74L354.68 558.77L356.8 558.8L358.91 558.84L361.02 558.88L363.14 558.93L365.25 558.99L367.37 559.06L369.48 559.14L371.59 559.23L373.71 559.34L375.82 559.46L377.94 559.6L380.05 559.76L382.17 559.94L384.28 560.15L386.39 560.39L388.51 560.66L390.62 560.97L392.74 561.31L394.85 561.7L396.96 562.14L399.08 562.63L401.19 563.17L403.31 563.79L405.42 564.46L407.53 565.22L409.65 566.06L411.76 566.98L413.88 568L415.99 569.12L418.1 570.35L420.22 571.69L422.33 573.16L424.45 574.76L426.56 576.5L428.68 578.38L430.79 580.42L432.9 582.62L435.02 584.99L437.13 587.53L439.25 590.26L441.36 593.17L443.47 596.27L445.59 599.58L447.7 603.08L449.82 606.8L451.93 610.72L454.04 614.85L456.16 619.19L458.27 623.74L460.39 628.51L462.5 633.48L464.61 638.66L466.73 644.03L468.84 649.61L470.96 655.37L473.07 661.31L475.19 667.42L477.3 673.7L479.41 680.13L481.53 686.69L483.64 693.38L485.76 700.19L487.87 707.09L489.98 714.07L492.1 721.12L494.21 728.22L496.33 735.35L498.44 742.5L500.55 749.65L502.67 756.78L504.78 763.88L506.9 770.93L509.01 777.91L511.12 784.8L513.24 791.6L515.35 798.29L517.47 804.85L519.58 811.27L521.7 817.54L523.81 823.64L525.92 829.58L528.04 835.33L530.15 840.9L532.27 846.27L534.38 851.44L536.49 856.4L538.61 861.15L540.72 865.7L542.84 870.03L544.95 874.15L547.06 878.07L549.18 881.77L551.29 885.27L553.41 888.56L555.52 891.66L557.63 894.56L559.75 897.28L561.86 899.82L563.98 902.18L566.09 904.37L568.21 906.4L570.32 908.28L572.43 910.01L574.55 911.61L576.66 913.07L578.78 914.41L580.89 915.63L583 916.75L585.12 917.76L587.23 918.68L589.35 919.51L591.46 920.27L593.57 920.94L595.69 921.55L597.8 922.09L599.92 922.58L602.03 923.02L604.14 923.4L606.26 923.75L608.37 924.05L610.49 924.32L612.6 924.56L614.72 924.76L616.83 924.95L618.94 925.11L621.06 925.25L623.17 925.37L625.29 925.47L627.4 925.56" stroke="#111" stroke-width="1.15" fill="none" stroke-dasharray="3 2.6"/>
<g fill="#000"><rect x="106.6" y="554.4" width="8.2" height="8.2"/><rect x="212.3" y="554.7" width="8.2" height="8.2"/><rect x="293.2" y="720.5" width="8.2" height="8.2"/><rect x="380.3" y="879.8" width="8.2" height="8.2"/><rect x="572.9" y="922.9" width="8.2" height="8.2"/><path d="M110.7 552.8L116.25 562.6L105.15 562.6Z"/><path d="M297.3 552.7L302.85 562.5L291.75 562.5Z"/><path d="M428 571.2L433.55 581L422.45 581Z"/><path d="M577 908.4L582.55 918.2L571.45 918.2Z"/></g>
<g fill="#000"><rect x="502.15" y="573.75" width="10.7" height="10.7"/><text x="536.5" y="585.5" font-size="20" stroke="#000" stroke-width="0.35"><tspan font-style="italic">Ae. geniculata</tspan> 1a</text><path d="M507.5 595.55L514.5 607.85L500.5 607.85Z"/><text x="536.5" y="610.2" font-size="20" stroke="#000" stroke-width="0.35"><tspan font-style="italic">Ae. geniculata</tspan> 1b</text></g>
<path d="M820 547.1V942.8M819.1 941.9H1353.6" stroke="#000" stroke-width="1.9" fill="none"/>
<path d="M820 924.5h-8.6M820 852.6h-8.6M820 780.7h-8.6M820 708.8h-8.6M820 636.9h-8.6M820 565h-8.6M820 888.55h-4.6M820 816.65h-4.6M820 744.75h-4.6M820 672.85h-4.6M820 600.95h-4.6M849.7 941.9v8.6M910.3 941.9v8.6M970.9 941.9v8.6M1031.5 941.9v8.6M1092.1 941.9v8.6M1152.7 941.9v8.6M1213.3 941.9v8.6M1273.9 941.9v8.6M1334.5 941.9v8.6M819.4 941.9v4.6M880 941.9v4.6M940.6 941.9v4.6M1001.2 941.9v4.6M1061.8 941.9v4.6M1122.4 941.9v4.6M1183 941.9v4.6M1243.6 941.9v4.6M1304.2 941.9v4.6" stroke="#000" stroke-width="1.9" fill="none"/>
<g font-size="18" stroke="#000" stroke-width="0.4"><text x="806.4" y="929.3" text-anchor="end">0</text><text x="806.4" y="857.4" text-anchor="end">20</text><text x="806.4" y="785.5" text-anchor="end">40</text><text x="806.4" y="713.6" text-anchor="end">60</text><text x="806.4" y="641.7" text-anchor="end">80</text><text x="806.4" y="569.8" text-anchor="end">100</text><text x="849.7" y="970" text-anchor="middle">0</text><text x="910.3" y="970" text-anchor="middle">10</text><text x="970.9" y="970" text-anchor="middle">20</text><text x="1031.5" y="970" text-anchor="middle">30</text><text x="1092.1" y="970" text-anchor="middle">40</text><text x="1152.7" y="970" text-anchor="middle">50</text><text x="1213.3" y="970" text-anchor="middle">60</text><text x="1273.9" y="970" text-anchor="middle">70</text><text x="1334.5" y="970" text-anchor="middle">80</text></g>
<text transform="translate(761.5 759.25) rotate(-90) scale(1 1.04)" text-anchor="middle" font-weight="bold" font-size="22.4" stroke="#000" stroke-width="0.3">Germination %</text>
<text transform="translate(1083.55 1005) scale(1 1.04)" text-anchor="middle" font-weight="bold" font-size="22.4" stroke="#000" stroke-width="0.3">Days of ageing</text>
<path d="M819.4 571.11L821.46 571.11L823.53 571.11L825.59 571.11L827.65 571.11L829.71 571.11L831.78 571.11L833.84 571.11L835.9 571.11L837.96 571.11L840.03 571.11L842.09 571.11L844.15 571.11L846.21 571.11L848.28 571.11L850.34 571.11L852.4 571.11L854.46 571.11L856.53 571.11L858.59 571.11L860.65 571.11L862.71 571.11L864.78 571.11L866.84 571.11L868.9 571.11L870.96 571.11L873.03 571.11L875.09 571.11L877.15 571.11L879.21 571.12L881.28 571.12L883.34 571.12L885.4 571.12L887.46 571.12L889.53 571.12L891.59 571.12L893.65 571.13L895.71 571.13L897.78 571.13L899.84 571.14L901.9 571.14L903.96 571.15L906.03 571.15L908.09 571.16L910.15 571.17L912.21 571.18L914.28 571.2L916.34 571.21L918.4 571.23L920.46 571.26L922.53 571.28L924.59 571.31L926.65 571.35L928.72 571.39L930.78 571.43L932.84 571.49L934.9 571.55L936.97 571.62L939.03 571.7L941.09 571.79L943.15 571.9L945.22 572.02L947.28 572.16L949.34 572.32L951.4 572.49L953.47 572.69L955.53 572.92L957.59 573.17L959.65 573.46L961.72 573.78L963.78 574.13L965.84 574.53L967.9 574.97L969.97 575.46L972.03 576.01L974.09 576.61L976.15 577.28L978.22 578.01L980.28 578.81L982.34 579.7L984.4 580.67L986.47 581.72L988.53 582.87L990.59 584.13L992.65 585.48L994.72 586.96L996.78 588.55L998.84 590.27L1000.9 592.11L1002.97 594.1L1005.03 596.23L1007.09 598.5L1009.15 600.93L1011.22 603.52L1013.28 606.26L1015.34 609.18L1017.4 612.27L1019.47 615.53L1021.53 618.96L1023.59 622.58L1025.65 626.37L1027.72 630.34L1029.78 634.49L1031.84 638.82L1033.91 643.33L1035.97 648.01L1038.03 652.86L1040.09 657.88L1042.16 663.05L1044.22 668.39L1046.28 673.87L1048.34 679.49L1050.41 685.24L1052.47 691.11L1054.53 697.1L1056.59 703.19L1058.66 709.37L1060.72 715.63L1062.78 721.95L1064.84 728.33L1066.91 734.75L1068.97 741.19L1071.03 747.65L1073.09 754.11L1075.16 760.56L1077.22 766.98L1079.28 773.36L1081.34 779.69L1083.41 785.95L1085.47 792.13L1087.53 798.23L1089.59 804.22L1091.66 810.1L1093.72 815.86L1095.78 821.48L1097.84 826.97L1099.91 832.31L1101.97 837.5L1104.03 842.52L1106.09 847.38L1108.16 852.07L1110.22 856.58L1112.28 860.92L1114.34 865.08L1116.41 869.06L1118.47 872.86L1120.53 876.48L1122.59 879.93L1124.66 883.19L1126.72 886.29L1128.78 889.21L1130.84 891.97L1132.91 894.56L1134.97 897L1137.03 899.28L1139.09 901.42L1141.16 903.41L1143.22 905.26L1145.28 906.98L1147.35 908.58L1149.41 910.06L1151.47 911.42L1153.53 912.68L1155.6 913.84L1157.66 914.9L1159.72 915.87L1161.78 916.76L1163.85 917.57L1165.91 918.3L1167.97 918.97L1170.03 919.58L1172.1 920.12L1174.16 920.62L1176.22 921.06L1178.28 921.46L1180.35 921.82L1182.41 922.14L1184.47 922.43L1186.53 922.68L1188.6 922.91L1190.66 923.11L1192.72 923.29L1194.78 923.44L1196.85 923.58L1198.91 923.71L1200.97 923.81L1203.03 923.91L1205.1 923.99L1207.16 924.06L1209.22 924.12L1211.28 924.18L1213.35 924.22L1215.41 924.26L1217.47 924.3L1219.53 924.33L1221.6 924.35L1223.66 924.38L1225.72 924.4L1227.78 924.41L1229.85 924.43L1231.91 924.44L1233.97 924.45L1236.03 924.46L1238.1 924.46L1240.16 924.47L1242.22 924.47L1244.28 924.48L1246.35 924.48L1248.41 924.49L1250.47 924.49L1252.54 924.49L1254.6 924.49L1256.66 924.49L1258.72 924.49L1260.79 924.5L1262.85 924.5L1264.91 924.5L1266.97 924.5L1269.04 924.5L1271.1 924.5L1273.16 924.5L1275.22 924.5L1277.29 924.5L1279.35 924.5L1281.41 924.5L1283.47 924.5L1285.54 924.5L1287.6 924.5L1289.66 924.5L1291.72 924.5L1293.79 924.5L1295.85 924.5L1297.91 924.5L1299.97 924.5L1302.04 924.5L1304.1 924.5L1306.16 924.5L1308.22 924.5L1310.29 924.5L1312.35 924.5L1314.41 924.5L1316.47 924.5L1318.54 924.5L1320.6 924.5L1322.66 924.5L1324.72 924.5L1326.79 924.5L1328.85 924.5L1330.91 924.5L1332.97 924.5L1335.04 924.5L1337.1 924.5L1339.16 924.5L1341.22 924.5L1343.29 924.5L1345.35 924.5L1347.41 924.5L1349.47 924.5L1351.54 924.5L1353.6 924.5" stroke="#111" stroke-width="1.15" fill="none"/>
<path d="M819.4 571.11L821.46 571.11L823.53 571.11L825.59 571.11L827.65 571.11L829.71 571.11L831.78 571.11L833.84 571.11L835.9 571.11L837.96 571.11L840.03 571.11L842.09 571.11L844.15 571.11L846.21 571.11L848.28 571.11L850.34 571.11L852.4 571.11L854.46 571.11L856.53 571.11L858.59 571.11L860.65 571.11L862.71 571.11L864.78 571.11L866.84 571.11L868.9 571.11L870.96 571.11L873.03 571.11L875.09 571.11L877.15 571.11L879.21 571.11L881.28 571.11L883.34 571.11L885.4 571.11L887.46 571.11L889.53 571.12L891.59 571.12L893.65 571.12L895.71 571.12L897.78 571.12L899.84 571.12L901.9 571.12L903.96 571.12L906.03 571.12L908.09 571.12L910.15 571.13L912.21 571.13L914.28 571.13L916.34 571.13L918.4 571.14L920.46 571.14L922.53 571.14L924.59 571.15L926.65 571.15L928.72 571.16L930.78 571.17L932.84 571.17L934.9 571.18L936.97 571.19L939.03 571.2L941.09 571.21L943.15 571.22L945.22 571.24L947.28 571.25L949.34 571.27L951.4 571.29L953.47 571.31L955.53 571.33L957.59 571.36L959.65 571.39L961.72 571.42L963.78 571.45L965.84 571.49L967.9 571.53L969.97 571.58L972.03 571.63L974.09 571.69L976.15 571.75L978.22 571.82L980.28 571.89L982.34 571.98L984.4 572.06L986.47 572.16L988.53 572.27L990.59 572.39L992.65 572.51L994.72 572.65L996.78 572.8L998.84 572.96L1000.9 573.14L1002.97 573.33L1005.03 573.54L1007.09 573.76L1009.15 574.01L1011.22 574.27L1013.28 574.55L1015.34 574.86L1017.4 575.18L1019.47 575.54L1021.53 575.91L1023.59 576.32L1025.65 576.75L1027.72 577.22L1029.78 577.72L1031.84 578.25L1033.91 578.82L1035.97 579.42L1038.03 580.07L1040.09 580.75L1042.16 581.48L1044.22 582.26L1046.28 583.08L1048.34 583.95L1050.41 584.88L1052.47 585.85L1054.53 586.89L1056.59 587.97L1058.66 589.12L1060.72 590.33L1062.78 591.61L1064.84 592.95L1066.91 594.35L1068.97 595.83L1071.03 597.37L1073.09 598.99L1075.16 600.69L1077.22 602.46L1079.28 604.3L1081.34 606.23L1083.41 608.24L1085.47 610.33L1087.53 612.5L1089.59 614.75L1091.66 617.09L1093.72 619.52L1095.78 622.03L1097.84 624.63L1099.91 627.32L1101.97 630.09L1104.03 632.95L1106.09 635.89L1108.16 638.92L1110.22 642.04L1112.28 645.24L1114.34 648.52L1116.41 651.89L1118.47 655.34L1120.53 658.86L1122.59 662.46L1124.66 666.14L1126.72 669.89L1128.78 673.71L1130.84 677.6L1132.91 681.56L1134.97 685.57L1137.03 689.65L1139.09 693.78L1141.16 697.96L1143.22 702.19L1145.28 706.47L1147.35 710.79L1149.41 715.14L1151.47 719.52L1153.53 723.94L1155.6 728.38L1157.66 732.83L1159.72 737.31L1161.78 741.79L1163.85 746.28L1165.91 750.77L1167.97 755.26L1170.03 759.74L1172.1 764.21L1174.16 768.66L1176.22 773.09L1178.28 777.5L1180.35 781.87L1182.41 786.21L1184.47 790.52L1186.53 794.78L1188.6 799L1190.66 803.16L1192.72 807.28L1194.78 811.33L1196.85 815.33L1198.91 819.26L1200.97 823.13L1203.03 826.93L1205.1 830.66L1207.16 834.31L1209.22 837.89L1211.28 841.39L1213.35 844.81L1215.41 848.15L1217.47 851.41L1219.53 854.58L1221.6 857.67L1223.66 860.67L1225.72 863.59L1227.78 866.42L1229.85 869.17L1231.91 871.82L1233.97 874.39L1236.03 876.88L1238.1 879.28L1240.16 881.59L1242.22 883.82L1244.28 885.96L1246.35 888.03L1248.41 890.01L1250.47 891.91L1252.54 893.73L1254.6 895.48L1256.66 897.15L1258.72 898.74L1260.79 900.27L1262.85 901.72L1264.91 903.1L1266.97 904.42L1269.04 905.67L1271.1 906.86L1273.16 907.99L1275.22 909.06L1277.29 910.08L1279.35 911.04L1281.41 911.94L1283.47 912.8L1285.54 913.61L1287.6 914.37L1289.66 915.08L1291.72 915.76L1293.79 916.39L1295.85 916.98L1297.91 917.54L1299.97 918.06L1302.04 918.55L1304.1 919L1306.16 919.43L1308.22 919.82L1310.29 920.19L1312.35 920.54L1314.41 920.86L1316.47 921.15L1318.54 921.43L1320.6 921.68L1322.66 921.92L1324.72 922.14L1326.79 922.34L1328.85 922.53L1330.91 922.7L1332.97 922.86L1335.04 923.01L1337.1 923.14L1339.16 923.26L1341.22 923.38L1343.29 923.48L1345.35 923.58L1347.41 923.66L1349.47 923.74L1351.54 923.82L1353.6 923.88" stroke="#111" stroke-width="1.15" fill="none" stroke-dasharray="3 2.6"/>
<g fill="#000"><rect x="846" y="566.6" width="8.2" height="8.2"/><rect x="948.9" y="566.9" width="8.2" height="8.2"/><rect x="1027.5" y="621.1" width="8.2" height="8.2"/><rect x="1154.9" y="914" width="8.2" height="8.2"/><rect x="1300.2" y="919.8" width="8.2" height="8.2"/><path d="M850.1 565.1L855.65 574.9L844.55 574.9Z"/><path d="M1031.6 565L1037.15 574.8L1026.05 574.8Z"/><path d="M1159 732.8L1164.55 742.6L1153.45 742.6Z"/><path d="M1304.3 911.5L1309.85 921.3L1298.75 921.3Z"/></g>
<g fill="#000"><rect x="1185.45" y="576.95" width="10.7" height="10.7"/><text x="1219.3" y="588.5" font-size="19.5" stroke="#000" stroke-width="0.35"><tspan font-style="italic">Ae. uniaristata</tspan> 1a</text><path d="M1190.8 598.3L1197.8 610.6L1183.8 610.6Z"/><text x="1219.3" y="612.5" font-size="19.5" stroke="#000" stroke-width="0.35"><tspan font-style="italic">Ae. uniaristata</tspan> 1b</text></g>
<path d="M81 1084.6V1494.2M80.1 1493.3H632.6" stroke="#000" stroke-width="1.9" fill="none"/>
<path d="M81 1474.6h-8.6M81 1400.3h-8.6M81 1326h-8.6M81 1251.7h-8.6M81 1177.4h-8.6M81 1103.1h-8.6M81 1437.45h-4.6M81 1363.15h-4.6M81 1288.85h-4.6M81 1214.55h-4.6M81 1140.25h-4.6M105 1493.3v8.6M153 1493.3v8.6M201 1493.3v8.6M249 1493.3v8.6M297 1493.3v8.6M345 1493.3v8.6M393 1493.3v8.6M441 1493.3v8.6M489 1493.3v8.6M537 1493.3v8.6M585 1493.3v8.6M633 1493.3v8.6M81 1493.3v4.6M129 1493.3v4.6M177 1493.3v4.6M225 1493.3v4.6M273 1493.3v4.6M321 1493.3v4.6M369 1493.3v4.6M417 1493.3v4.6M465 1493.3v4.6M513 1493.3v4.6M561 1493.3v4.6M609 1493.3v4.6" stroke="#000" stroke-width="1.9" fill="none"/>
<g font-size="18" stroke="#000" stroke-width="0.4"><text x="67.4" y="1479.4" text-anchor="end">0</text><text x="67.4" y="1405.1" text-anchor="end">20</text><text x="67.4" y="1330.8" text-anchor="end">40</text><text x="67.4" y="1256.5" text-anchor="end">60</text><text x="67.4" y="1182.2" text-anchor="end">80</text><text x="67.4" y="1107.9" text-anchor="end">100</text><text x="105" y="1521.4" text-anchor="middle">0</text><text x="153" y="1521.4" text-anchor="middle">10</text><text x="201" y="1521.4" text-anchor="middle">20</text><text x="249" y="1521.4" text-anchor="middle">30</text><text x="297" y="1521.4" text-anchor="middle">40</text><text x="345" y="1521.4" text-anchor="middle">50</text><text x="393" y="1521.4" text-anchor="middle">60</text><text x="441" y="1521.4" text-anchor="middle">70</text><text x="489" y="1521.4" text-anchor="middle">80</text><text x="537" y="1521.4" text-anchor="middle">90</text><text x="585" y="1521.4" text-anchor="middle">100</text><text x="633" y="1521.4" text-anchor="middle">110</text></g>
<text transform="translate(21 1304) rotate(-90) scale(1 1.04)" text-anchor="middle" font-weight="bold" font-size="23.1" stroke="#000" stroke-width="0.3">Germination %</text>
<text transform="translate(356.8 1557.9) scale(1 1.04)" text-anchor="middle" font-weight="bold" font-size="23.1" stroke="#000" stroke-width="0.3">Days of ageing</text>
<path d="M81 1103.13L83.13 1103.13L85.26 1103.14L87.39 1103.14L89.52 1103.15L91.65 1103.15L93.78 1103.16L95.91 1103.17L98.04 1103.18L100.17 1103.18L102.3 1103.19L104.43 1103.21L106.56 1103.22L108.69 1103.23L110.82 1103.25L112.95 1103.26L115.08 1103.28L117.21 1103.3L119.34 1103.32L121.46 1103.35L123.59 1103.38L125.72 1103.41L127.85 1103.44L129.98 1103.47L132.11 1103.51L134.24 1103.56L136.37 1103.6L138.5 1103.66L140.63 1103.71L142.76 1103.77L144.89 1103.84L147.02 1103.91L149.15 1103.99L151.28 1104.08L153.41 1104.18L155.54 1104.28L157.67 1104.39L159.8 1104.51L161.93 1104.64L164.06 1104.78L166.19 1104.93L168.32 1105.1L170.45 1105.28L172.58 1105.47L174.71 1105.67L176.84 1105.9L178.97 1106.13L181.1 1106.39L183.23 1106.67L185.36 1106.96L187.49 1107.28L189.62 1107.62L191.75 1107.98L193.88 1108.37L196.01 1108.78L198.14 1109.22L200.26 1109.69L202.39 1110.19L204.52 1110.72L206.65 1111.29L208.78 1111.89L210.91 1112.53L213.04 1113.2L215.17 1113.92L217.3 1114.67L219.43 1115.47L221.56 1116.32L223.69 1117.21L225.82 1118.15L227.95 1119.14L230.08 1120.19L232.21 1121.28L234.34 1122.43L236.47 1123.64L238.6 1124.91L240.73 1126.24L242.86 1127.63L244.99 1129.09L247.12 1130.61L249.25 1132.2L251.38 1133.85L253.51 1135.58L255.64 1137.38L257.77 1139.25L259.9 1141.19L262.03 1143.21L264.16 1145.31L266.29 1147.48L268.42 1149.73L270.55 1152.06L272.68 1154.47L274.81 1156.95L276.94 1159.52L279.06 1162.17L281.19 1164.89L283.32 1167.7L285.45 1170.58L287.58 1173.55L289.71 1176.6L291.84 1179.72L293.97 1182.92L296.1 1186.19L298.23 1189.55L300.36 1192.97L302.49 1196.47L304.62 1200.04L306.75 1203.67L308.88 1207.38L311.01 1211.15L313.14 1214.98L315.27 1218.87L317.4 1222.82L319.53 1226.82L321.66 1230.88L323.79 1234.98L325.92 1239.13L328.05 1243.32L330.18 1247.56L332.31 1251.82L334.44 1256.12L336.57 1260.45L338.7 1264.81L340.83 1269.18L342.96 1273.57L345.09 1277.98L347.22 1282.39L349.35 1286.82L351.48 1291.24L353.61 1295.66L355.74 1300.07L357.86 1304.48L359.99 1308.87L362.12 1313.24L364.25 1317.6L366.38 1321.92L368.51 1326.22L370.64 1330.49L372.77 1334.71L374.9 1338.9L377.03 1343.05L379.16 1347.15L381.29 1351.2L383.42 1355.2L385.55 1359.15L387.68 1363.03L389.81 1366.86L391.94 1370.62L394.07 1374.32L396.2 1377.95L398.33 1381.51L400.46 1385.01L402.59 1388.43L404.72 1391.77L406.85 1395.04L408.98 1398.24L411.11 1401.35L413.24 1404.39L415.37 1407.35L417.5 1410.23L419.63 1413.03L421.76 1415.75L423.89 1418.39L426.02 1420.95L428.15 1423.43L430.28 1425.83L432.41 1428.15L434.54 1430.4L436.66 1432.56L438.79 1434.65L440.92 1436.67L443.05 1438.6L445.18 1440.47L447.31 1442.26L449.44 1443.98L451.57 1445.63L453.7 1447.22L455.83 1448.73L457.96 1450.18L460.09 1451.57L462.22 1452.89L464.35 1454.16L466.48 1455.36L468.61 1456.51L470.74 1457.6L472.87 1458.64L475 1459.63L477.13 1460.56L479.26 1461.45L481.39 1462.29L483.52 1463.09L485.65 1463.84L487.78 1464.55L489.91 1465.23L492.04 1465.86L494.17 1466.46L496.3 1467.02L498.43 1467.55L500.56 1468.05L502.69 1468.52L504.82 1468.95L506.95 1469.37L509.08 1469.75L511.21 1470.11L513.34 1470.45L515.46 1470.76L517.59 1471.06L519.72 1471.33L521.85 1471.59L523.98 1471.82L526.11 1472.04L528.24 1472.25L530.37 1472.44L532.5 1472.62L534.63 1472.78L536.76 1472.93L538.89 1473.07L541.02 1473.2L543.15 1473.32L545.28 1473.43L547.41 1473.53L549.54 1473.63L551.67 1473.71L553.8 1473.79L555.93 1473.86L558.06 1473.93L560.19 1473.99L562.32 1474.05L564.45 1474.1L566.58 1474.15L568.71 1474.19L570.84 1474.23L572.97 1474.26L575.1 1474.3L577.23 1474.33L579.36 1474.35L581.49 1474.38L583.62 1474.4L585.75 1474.42L587.88 1474.44L590.01 1474.45L592.14 1474.47L594.26 1474.48L596.39 1474.5L598.52 1474.51L600.65 1474.52L602.78 1474.53L604.91 1474.53L607.04 1474.54L609.17 1474.55L611.3 1474.55L613.43 1474.56L615.56 1474.56L617.69 1474.57L619.82 1474.57L621.95 1474.57L624.08 1474.58L626.21 1474.58L628.34 1474.58L630.47 1474.58L632.6 1474.59" stroke="#111" stroke-width="1.15" fill="none"/>
<path d="M81 1103.1L83.13 1103.1L85.26 1103.1L87.39 1103.1L89.52 1103.1L91.65 1103.1L93.78 1103.11L95.91 1103.11L98.04 1103.11L100.17 1103.11L102.3 1103.11L104.43 1103.11L106.56 1103.11L108.69 1103.11L110.82 1103.11L112.95 1103.12L115.08 1103.12L117.21 1103.12L119.34 1103.12L121.46 1103.13L123.59 1103.13L125.72 1103.13L127.85 1103.14L129.98 1103.14L132.11 1103.15L134.24 1103.16L136.37 1103.16L138.5 1103.17L140.63 1103.18L142.76 1103.19L144.89 1103.2L147.02 1103.21L149.15 1103.22L151.28 1103.24L153.41 1103.25L155.54 1103.27L157.67 1103.29L159.8 1103.31L161.93 1103.33L164.06 1103.36L166.19 1103.39L168.32 1103.42L170.45 1103.45L172.58 1103.49L174.71 1103.53L176.84 1103.58L178.97 1103.63L181.1 1103.68L183.23 1103.74L185.36 1103.81L187.49 1103.88L189.62 1103.96L191.75 1104.04L193.88 1104.14L196.01 1104.24L198.14 1104.35L200.26 1104.46L202.39 1104.59L204.52 1104.73L206.65 1104.88L208.78 1105.04L210.91 1105.22L213.04 1105.41L215.17 1105.61L217.3 1105.83L219.43 1106.07L221.56 1106.33L223.69 1106.6L225.82 1106.89L227.95 1107.21L230.08 1107.55L232.21 1107.91L234.34 1108.3L236.47 1108.71L238.6 1109.15L240.73 1109.62L242.86 1110.12L244.99 1110.66L247.12 1111.23L249.25 1111.83L251.38 1112.47L253.51 1113.15L255.64 1113.88L257.77 1114.64L259.9 1115.45L262.03 1116.3L264.16 1117.2L266.29 1118.16L268.42 1119.16L270.55 1120.22L272.68 1121.33L274.81 1122.5L276.94 1123.73L279.06 1125.01L281.19 1126.36L283.32 1127.78L285.45 1129.26L287.58 1130.81L289.71 1132.42L291.84 1134.11L293.97 1135.87L296.1 1137.7L298.23 1139.61L300.36 1141.59L302.49 1143.65L304.62 1145.79L306.75 1148L308.88 1150.3L311.01 1152.68L313.14 1155.14L315.27 1157.68L317.4 1160.3L319.53 1163L321.66 1165.79L323.79 1168.65L325.92 1171.6L328.05 1174.63L330.18 1177.74L332.31 1180.93L334.44 1184.2L336.57 1187.55L338.7 1190.97L340.83 1194.47L342.96 1198.04L345.09 1201.68L347.22 1205.4L349.35 1209.18L351.48 1213.02L353.61 1216.93L355.74 1220.9L357.86 1224.92L359.99 1229.01L362.12 1233.14L364.25 1237.32L366.38 1241.54L368.51 1245.81L370.64 1250.12L372.77 1254.46L374.9 1258.83L377.03 1263.22L379.16 1267.65L381.29 1272.09L383.42 1276.54L385.55 1281.01L387.68 1285.48L389.81 1289.96L391.94 1294.43L394.07 1298.9L396.2 1303.36L398.33 1307.81L400.46 1312.24L402.59 1316.65L404.72 1321.04L406.85 1325.39L408.98 1329.72L411.11 1334L413.24 1338.25L415.37 1342.46L417.5 1346.61L419.63 1350.72L421.76 1354.77L423.89 1358.77L426.02 1362.71L428.15 1366.59L430.28 1370.4L432.41 1374.15L434.54 1377.83L436.66 1381.44L438.79 1384.97L440.92 1388.43L443.05 1391.82L445.18 1395.13L447.31 1398.36L449.44 1401.51L451.57 1404.58L453.7 1407.57L455.83 1410.48L457.96 1413.3L460.09 1416.05L462.22 1418.71L464.35 1421.29L466.48 1423.79L468.61 1426.21L470.74 1428.54L472.87 1430.8L475 1432.98L477.13 1435.08L479.26 1437.1L481.39 1439.04L483.52 1440.91L485.65 1442.71L487.78 1444.43L489.91 1446.08L492.04 1447.67L494.17 1449.18L496.3 1450.63L498.43 1452.01L500.56 1453.33L502.69 1454.59L504.82 1455.79L506.95 1456.93L509.08 1458.01L511.21 1459.04L513.34 1460.02L515.46 1460.95L517.59 1461.83L519.72 1462.66L521.85 1463.44L523.98 1464.19L526.11 1464.89L528.24 1465.55L530.37 1466.17L532.5 1466.76L534.63 1467.31L536.76 1467.83L538.89 1468.31L541.02 1468.77L543.15 1469.2L545.28 1469.6L547.41 1469.97L549.54 1470.32L551.67 1470.65L553.8 1470.95L555.93 1471.24L558.06 1471.5L560.19 1471.75L562.32 1471.98L564.45 1472.19L566.58 1472.39L568.71 1472.57L570.84 1472.74L572.97 1472.9L575.1 1473.04L577.23 1473.17L579.36 1473.3L581.49 1473.41L583.62 1473.51L585.75 1473.61L587.88 1473.7L590.01 1473.78L592.14 1473.85L594.26 1473.92L596.39 1473.99L598.52 1474.04L600.65 1474.1L602.78 1474.14L604.91 1474.19L607.04 1474.23L609.17 1474.26L611.3 1474.3L613.43 1474.33L615.56 1474.35L617.69 1474.38L619.82 1474.4L621.95 1474.42L624.08 1474.44L626.21 1474.46L628.34 1474.47L630.47 1474.48L632.6 1474.5" stroke="#111" stroke-width="1.15" fill="none" stroke-dasharray="1.1 2.3"/>
<path d="M81 1103.1L83.13 1103.1L85.26 1103.1L87.39 1103.1L89.52 1103.1L91.65 1103.1L93.78 1103.1L95.91 1103.1L98.04 1103.1L100.17 1103.1L102.3 1103.1L104.43 1103.1L106.56 1103.1L108.69 1103.1L110.82 1103.1L112.95 1103.1L115.08 1103.1L117.21 1103.1L119.34 1103.1L121.46 1103.1L123.59 1103.1L125.72 1103.1L127.85 1103.1L129.98 1103.1L132.11 1103.1L134.24 1103.1L136.37 1103.1L138.5 1103.1L140.63 1103.1L142.76 1103.1L144.89 1103.1L147.02 1103.1L149.15 1103.1L151.28 1103.1L153.41 1103.1L155.54 1103.1L157.67 1103.1L159.8 1103.1L161.93 1103.1L164.06 1103.1L166.19 1103.1L168.32 1103.1L170.45 1103.1L172.58 1103.1L174.71 1103.11L176.84 1103.11L178.97 1103.11L181.1 1103.11L183.23 1103.11L185.36 1103.11L187.49 1103.11L189.62 1103.11L191.75 1103.11L193.88 1103.11L196.01 1103.12L198.14 1103.12L200.26 1103.12L202.39 1103.12L204.52 1103.12L206.65 1103.13L208.78 1103.13L210.91 1103.13L213.04 1103.14L215.17 1103.14L217.3 1103.15L219.43 1103.15L221.56 1103.16L223.69 1103.16L225.82 1103.17L227.95 1103.18L230.08 1103.18L232.21 1103.19L234.34 1103.2L236.47 1103.21L238.6 1103.22L240.73 1103.23L242.86 1103.25L244.99 1103.26L247.12 1103.28L249.25 1103.3L251.38 1103.32L253.51 1103.34L255.64 1103.36L257.77 1103.38L259.9 1103.41L262.03 1103.44L264.16 1103.47L266.29 1103.5L268.42 1103.54L270.55 1103.58L272.68 1103.62L274.81 1103.67L276.94 1103.72L279.06 1103.77L281.19 1103.83L283.32 1103.89L285.45 1103.96L287.58 1104.04L289.71 1104.11L291.84 1104.2L293.97 1104.29L296.1 1104.39L298.23 1104.49L300.36 1104.6L302.49 1104.72L304.62 1104.85L306.75 1104.99L308.88 1105.14L311.01 1105.3L313.14 1105.46L315.27 1105.64L317.4 1105.83L319.53 1106.04L321.66 1106.26L323.79 1106.49L325.92 1106.73L328.05 1107L330.18 1107.27L332.31 1107.57L334.44 1107.88L336.57 1108.21L338.7 1108.56L340.83 1108.94L342.96 1109.33L345.09 1109.74L347.22 1110.18L349.35 1110.65L351.48 1111.14L353.61 1111.65L355.74 1112.19L357.86 1112.77L359.99 1113.37L362.12 1114L364.25 1114.66L366.38 1115.36L368.51 1116.09L370.64 1116.86L372.77 1117.67L374.9 1118.51L377.03 1119.39L379.16 1120.31L381.29 1121.27L383.42 1122.28L385.55 1123.33L387.68 1124.42L389.81 1125.56L391.94 1126.75L394.07 1127.98L396.2 1129.26L398.33 1130.6L400.46 1131.98L402.59 1133.42L404.72 1134.91L406.85 1136.46L408.98 1138.06L411.11 1139.72L413.24 1141.43L415.37 1143.2L417.5 1145.03L419.63 1146.92L421.76 1148.87L423.89 1150.88L426.02 1152.94L428.15 1155.07L430.28 1157.26L432.41 1159.51L434.54 1161.82L436.66 1164.2L438.79 1166.63L440.92 1169.13L443.05 1171.68L445.18 1174.3L447.31 1176.98L449.44 1179.72L451.57 1182.51L453.7 1185.37L455.83 1188.28L457.96 1191.25L460.09 1194.28L462.22 1197.36L464.35 1200.49L466.48 1203.68L468.61 1206.92L470.74 1210.21L472.87 1213.54L475 1216.93L477.13 1220.36L479.26 1223.83L481.39 1227.34L483.52 1230.89L485.65 1234.48L487.78 1238.11L489.91 1241.77L492.04 1245.46L494.17 1249.17L496.3 1252.92L498.43 1256.69L500.56 1260.48L502.69 1264.29L504.82 1268.11L506.95 1271.95L509.08 1275.81L511.21 1279.67L513.34 1283.53L515.46 1287.4L517.59 1291.28L519.72 1295.14L521.85 1299.01L523.98 1302.87L526.11 1306.72L528.24 1310.55L530.37 1314.38L532.5 1318.18L534.63 1321.97L536.76 1325.73L538.89 1329.47L541.02 1333.18L543.15 1336.86L545.28 1340.51L547.41 1344.13L549.54 1347.71L551.67 1351.25L553.8 1354.75L555.93 1358.22L558.06 1361.63L560.19 1365L562.32 1368.33L564.45 1371.6L566.58 1374.83L568.71 1378L570.84 1381.13L572.97 1384.19L575.1 1387.2L577.23 1390.16L579.36 1393.06L581.49 1395.9L583.62 1398.68L585.75 1401.4L587.88 1404.07L590.01 1406.67L592.14 1409.21L594.26 1411.69L596.39 1414.11L598.52 1416.47L600.65 1418.76L602.78 1421L604.91 1423.17L607.04 1425.28L609.17 1427.34L611.3 1429.33L613.43 1431.26L615.56 1433.14L617.69 1434.95L619.82 1436.71L621.95 1438.41L624.08 1440.05L626.21 1441.64L628.34 1443.17L630.47 1444.65L632.6 1446.07" stroke="#111" stroke-width="1.15" fill="none" stroke-dasharray="3 2.6"/>
<g fill="#000"><rect x="100.8" y="1098.9" width="8.2" height="8.2"/><rect x="182.4" y="1105.6" width="8.2" height="8.2"/><rect x="244.8" y="1123.9" width="8.2" height="8.2"/><rect x="460.3" y="1451.8" width="8.2" height="8.2"/><circle cx="104.9" cy="1103" r="4.8"/><circle cx="186.5" cy="1109.7" r="4.8"/><circle cx="349.4" cy="1184.1" r="4.8"/><circle cx="464.4" cy="1437" r="4.8"/><path d="M104.9 1097.3L110.45 1107.1L99.35 1107.1Z"/><path d="M248.7 1097L254.25 1106.8L243.15 1106.8Z"/><path d="M349.4 1115.8L354.95 1125.6L343.85 1125.6Z"/><path d="M464.3 1165L469.85 1174.8L458.75 1174.8Z"/><path d="M593.8 1418.7L599.35 1428.5L588.25 1428.5Z"/></g>
<g fill="#000"><rect x="542.35" y="1125.65" width="10.7" height="10.7"/><text x="577.4" y="1137.6" font-size="20.1" stroke="#000" stroke-width="0.35"><tspan font-style="italic">Ae. neglecta</tspan> 1a</text><path d="M547.7 1148.1L554.7 1160.4L540.7 1160.4Z"/><text x="577.4" y="1162.1" font-size="20.1" stroke="#000" stroke-width="0.35"><tspan font-style="italic">Ae. neglecta</tspan> 1b</text><circle cx="547.7" cy="1180.7" r="5.8"/><text x="577.4" y="1186.9" font-size="20.1" stroke="#000" stroke-width="0.35"><tspan font-style="italic">Ae. neglecta</tspan> 2a</text></g>
<g fill="#fff"><rect x="39.27" y="23.16" width="4.44" height="3.94"/><rect x="45.65" y="23.16" width="3.72" height="3.94"/><rect x="164.50" y="426.76" width="4.44" height="3.94"/><rect x="170.88" y="426.76" width="3.72" height="3.94"/><rect x="537.95" y="42.02" width="4.88" height="4.08"/><rect x="544.97" y="42.02" width="4.09" height="4.08"/><rect x="770.27" y="25.66" width="4.44" height="3.94"/><rect x="776.65" y="25.66" width="3.72" height="3.94"/><rect x="872.20" y="429.36" width="4.44" height="3.94"/><rect x="878.58" y="429.36" width="3.72" height="3.94"/><rect x="1277.59" y="429.36" width="4.44" height="3.94"/><rect x="1283.97" y="429.36" width="3.72" height="3.94"/><rect x="1323.19" y="429.36" width="4.44" height="3.94"/><rect x="1329.57" y="429.36" width="3.72" height="3.94"/><rect x="1333.19" y="429.36" width="4.44" height="3.94"/><rect x="1339.57" y="429.36" width="3.72" height="3.94"/><rect x="36.27" y="561.06" width="4.44" height="3.94"/><rect x="42.65" y="561.06" width="3.72" height="3.94"/><rect x="162.90" y="971.16" width="4.44" height="3.94"/><rect x="169.28" y="971.16" width="3.72" height="3.94"/><rect x="668.71" y="583.01" width="4.93" height="4.09"/><rect x="675.80" y="583.01" width="4.13" height="4.09"/><rect x="668.71" y="607.71" width="4.93" height="4.09"/><rect x="675.80" y="607.71" width="4.13" height="4.09"/><rect x="776.27" y="567.46" width="4.44" height="3.94"/><rect x="782.65" y="567.46" width="3.72" height="3.94"/><rect x="900.20" y="967.66" width="4.44" height="3.94"/><rect x="906.58" y="967.66" width="3.72" height="3.94"/><rect x="1349.27" y="586.04" width="4.81" height="4.06"/><rect x="1356.18" y="586.04" width="4.03" height="4.06"/><rect x="1349.27" y="610.04" width="4.81" height="4.06"/><rect x="1356.18" y="610.04" width="4.03" height="4.06"/><rect x="37.27" y="1105.56" width="4.44" height="3.94"/><rect x="43.65" y="1105.56" width="3.72" height="3.94"/><rect x="142.90" y="1519.06" width="4.44" height="3.94"/><rect x="149.28" y="1519.06" width="3.72" height="3.94"/><rect x="569.89" y="1519.06" width="4.44" height="3.94"/><rect x="576.27" y="1519.06" width="3.72" height="3.94"/><rect x="617.89" y="1519.06" width="4.44" height="3.94"/><rect x="624.27" y="1519.06" width="3.72" height="3.94"/><rect x="627.89" y="1519.06" width="4.44" height="3.94"/><rect x="634.27" y="1519.06" width="3.72" height="3.94"/><rect x="694.60" y="1135.10" width="4.96" height="4.10"/><rect x="701.72" y="1135.10" width="4.15" height="4.10"/><rect x="694.60" y="1159.60" width="4.96" height="4.10"/><rect x="701.72" y="1159.60" width="4.15" height="4.10"/></g>
</svg>
</body></html>
